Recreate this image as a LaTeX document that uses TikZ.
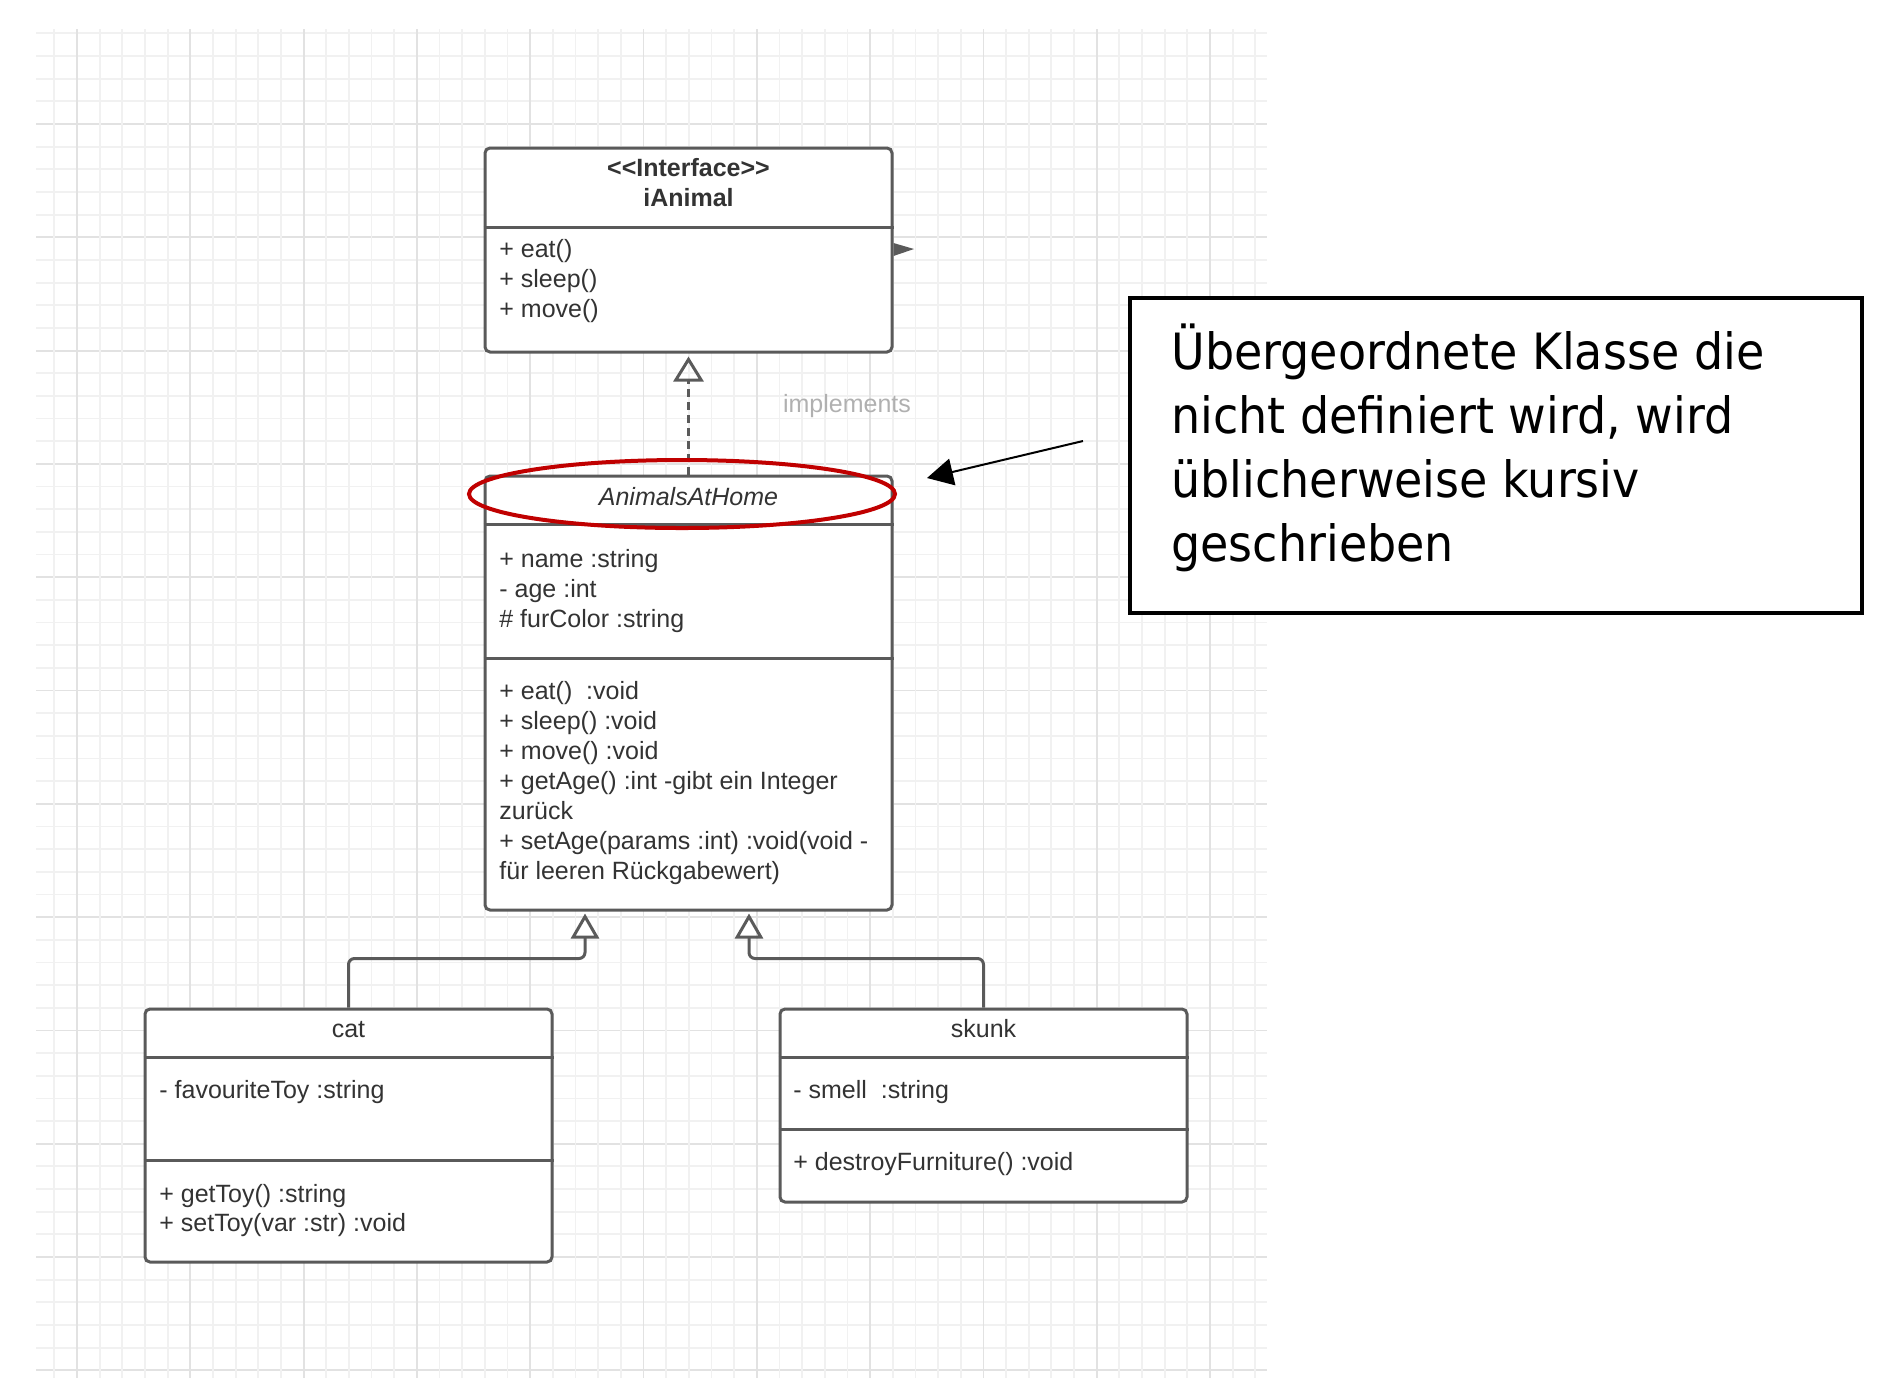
\documentclass[tikz,border=0pt]{standalone}
\usepackage{fontspec}
\setmainfont{Liberation Sans}
\newfontfamily\notefont{DejaVu Sans}[FakeStretch=0.92]
\usetikzlibrary{arrows.meta,calc}
\definecolor{umlgray}{HTML}{5A5A5A}
\definecolor{umltext}{HTML}{333333}
\definecolor{gridminor}{HTML}{F1F1F1}
\definecolor{gridmajor}{HTML}{E2E2E2}
\definecolor{markred}{HTML}{C00000}
\definecolor{labelgray}{HTML}{B0B0B0}

\begin{document}
\begin{tikzpicture}[x=0.5pt, y=-0.5pt, font=\fontsize{12.5}{15}\selectfont, text=umltext,
    classbox/.style={draw=umlgray, line width=1.5pt, rounded corners=2.5pt, fill=white,
      minimum width=203.5pt, inner sep=0pt},
    sepline/.style={draw=umlgray, line width=1.5pt},
    classtitle/.style={anchor=base, inner sep=0pt},
    membertext/.style={anchor=base west, inner sep=0pt},
    realize/.style={draw=umlgray, line width=1.5pt, dash pattern=on 4pt off 2.5pt,
      shorten >=1.5pt, -{Triangle[open, width=15pt, length=12.5pt]}},
    inherit/.style={draw=umlgray, line width=1.5pt, rounded corners=3pt,
      shorten >=1pt, -{Triangle[open, width=14pt, length=12.5pt]}},
    notebox/.style={draw=black, line width=1.8pt, fill=white, inner sep=0pt,
      minimum width=366pt, minimum height=157.5pt},
    notetext/.style={anchor=base west, inner sep=0pt, text=black,
      font=\notefont\fontsize{25}{32}\selectfont},
  ]
  \useasboundingbox (0,0) rectangle (1890,1389);

  % background grid
  \foreach \k in {-4,...,55} {
    \pgfmathtruncatemacro{\isM}{ifthenelse(mod(\k+20,5)==0,1,0)}
    \ifnum\isM=1
      \draw[gridmajor, line width=0.9pt] ({36}, {124+22.66*\k}) -- ({1267}, {124+22.66*\k});
    \else
      \draw[gridminor, line width=0.9pt] ({36}, {124+22.66*\k}) -- ({1267}, {124+22.66*\k});
    \fi
  }
  \foreach \k in {-1,...,52} {
    \pgfmathtruncatemacro{\isM}{ifthenelse(mod(\k+5,5)==0,1,0)}
    \ifnum\isM=1
      \draw[gridmajor, line width=0.9pt] ({77+22.66*\k}, {29}) -- ({77+22.66*\k}, {1378});
    \else
      \draw[gridminor, line width=0.9pt] ({77+22.66*\k}, {29}) -- ({77+22.66*\k}, {1378});
    \fi
  }

  % classes
  \node[classbox, minimum height=102pt] (ianimal) at (688.5,250) {};
  \node[classbox, minimum height=217pt] (aah) at (688.5,693) {};
  \node[classbox, minimum height=126.5pt] (cat) at (348.5,1135.5) {};
  \node[classbox, minimum height=96.5pt] (skunk) at (983.5,1105.5) {};

  \draw[sepline] (ianimal.west |- 0,227) -- (ianimal.east |- 0,227);
  \draw[sepline] (aah.west |- 0,524) -- (aah.east |- 0,524);
  \draw[sepline] (aah.west |- 0,658) -- (aah.east |- 0,658);
  \draw[sepline] (cat.west |- 0,1057) -- (cat.east |- 0,1057);
  \draw[sepline] (cat.west |- 0,1160) -- (cat.east |- 0,1160);
  \draw[sepline] (skunk.west |- 0,1057) -- (skunk.east |- 0,1057);
  \draw[sepline] (skunk.west |- 0,1129) -- (skunk.east |- 0,1129);

  % iAnimal
  \node[classtitle] (ia-st) at (688.5,176) {\bfseries <{}<Interface>{}>};
  \node[classtitle] (ia-name) at (688.5,206) {\bfseries iAnimal};
  \foreach \t [count=\i from 0] in {+ eat(), + sleep(), + move()}
    \node[membertext] (ia-m\i) at ({499}, {257+30*\i}) {\t};
  \fill[umlgray] (ianimal.east |- 0,243) -- (914,249) -- (ianimal.east |- 0,256) -- cycle;

  % AnimalsAtHome
  \node[classtitle] (aah-name) at (688.5,505) {\itshape AnimalsAtHome};
  \foreach \t [count=\i from 0] in {+ name :string, - age :int, \# furColor :string}
    \node[membertext] (aah-a\i) at ({499}, {567+30*\i}) {\t};
  \foreach \t [count=\i from 0] in {+ eat()~ :void, + sleep() :void, + move() :void,
      + getAge() :int -gibt ein Integer, zurück, + setAge(params :int) :void(void -,
      für leeren Rückgabewert)}
    \node[membertext] (aah-m\i) at ({499}, {699+30*\i}) {\t};

  % cat
  \node[classtitle] (cat-name) at (348.5,1037) {cat};
  \node[membertext] (cat-a0) at (159,1098) {- favouriteToy :string};
  \foreach \t [count=\i from 0] in {+ getToy() :string, + setToy(var :str) :void}
    \node[membertext] (cat-m\i) at ({159}, {1202+29*\i}) {\t};

  % skunk
  \node[classtitle] (skunk-name) at (983.5,1037) {skunk};
  \node[membertext] (skunk-a0) at (793,1098) {- smell~ :string};
  \node[membertext] (skunk-m0) at (793,1170) {+ destroyFurniture() :void};

  % relations
  \draw[realize] (aah.north) -- (ianimal.south);
  \node[text=labelgray] (impl) at (847,406) {implements};
  \draw[inherit] (cat.north) -- ++(0,-49) -| ($(aah.south)+(-103.5,0)$);
  \draw[inherit] (skunk.north) -- ++(0,-49) -| ($(aah.south)+(60.5,0)$);

  % highlight and note
  \draw[markred, line width=2pt] (682,494) ellipse [x radius=106.5pt, y radius=17pt];
  \node[notebox] (note) at (1496,455.5) {};
  \foreach \t [count=\i from 0] in {Übergeordnete Klasse die, {nicht definiert wird, wird},
      üblicherweise kursiv, geschrieben}
    \node[notetext] (note-l\i) at ({1171}, {369+64.3*\i}) {\t};
  \coordinate (hint-tail) at (1083,441);
  \coordinate (hint-tip) at (927,478);
  \draw[line width=1pt, -{Triangle[width=13.5pt, length=13pt]}] (hint-tail) -- (hint-tip);
\end{tikzpicture}
\end{document}
